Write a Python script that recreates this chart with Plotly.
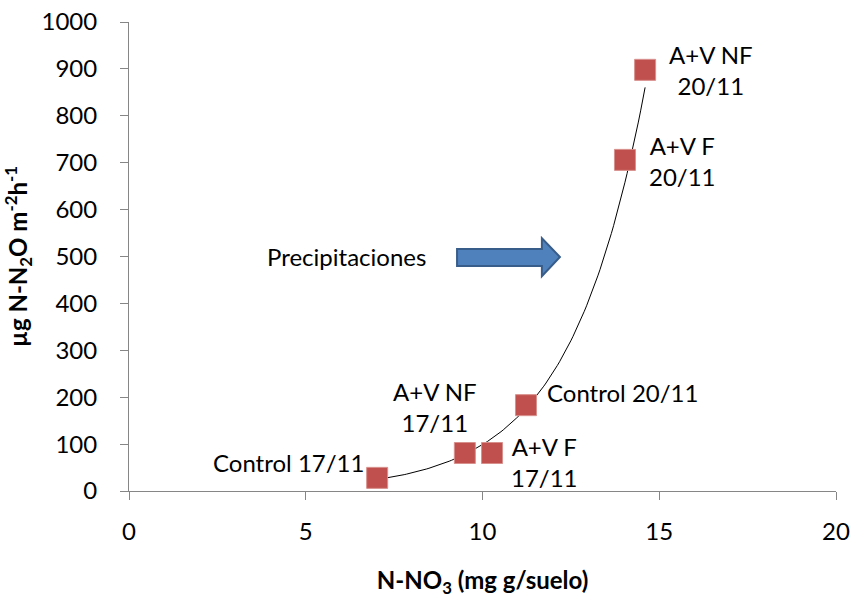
import numpy as np
import plotly.graph_objects as go

# Data
labels = ["Control 17/11", "A+V NF 17/11", "A+V F 17/11", "Control 20/11", "A+V F 20/11", "A+V NF 20/11"]
no3 = [7.02, 9.5, 10.27, 11.23, 14.03, 14.6]
n2o = [28, 81, 81, 183, 706, 898]

x_ticks = [0, 5, 10, 15, 20]
y_ticks = [0, 100, 200, 300, 400, 500, 600, 700, 800, 900, 1000]

FONT = "Lato"
TXT = 24

# Exponential trend line (least squares on log values, as in a spreadsheet trendline)
b, a = np.polyfit(np.array(no3), np.log(np.array(n2o)), 1)
tx = np.linspace(min(no3), max(no3), 120)
ty = np.exp(a) * np.exp(b * tx)

fig = go.Figure()
fig.add_trace(go.Scatter(x=tx, y=ty, mode="lines",
                         line=dict(color="black", width=1), hoverinfo="skip", showlegend=False))
fig.add_trace(go.Scatter(x=no3, y=n2o, mode="markers",
                         marker=dict(symbol="square", size=21, color="#C0504D",
                                     line=dict(color="#D8908D", width=1)),
                         text=labels, showlegend=False))

# Point labels (offsets in pixels from the point)
ann = [
    dict(x=no3[0], y=n2o[0], text="Control 17/11", xanchor="right", yanchor="middle", xshift=-11, yshift=15, align="left"),
    dict(x=no3[1], y=n2o[1], text="A+V NF<br>17/11", xanchor="center", yanchor="middle", xshift=-30, yshift=46, align="center"),
    dict(x=no3[2], y=n2o[2], text="A+V F<br>17/11", xanchor="left", yanchor="middle", xshift=17, yshift=-9, align="center"),
    dict(x=no3[3], y=n2o[3], text="Control 20/11", xanchor="left", yanchor="middle", xshift=19, yshift=13, align="left"),
    dict(x=no3[4], y=n2o[4], text="A+V F<br>20/11", xanchor="left", yanchor="middle", xshift=22, yshift=-1, align="center"),
    dict(x=no3[5], y=n2o[5], text="A+V NF<br>20/11", xanchor="left", yanchor="middle", xshift=22, yshift=0, align="center"),
]
annotations = []
for d in ann:
    d.update(xref="x", yref="y", showarrow=False, font=dict(family=FONT, size=TXT, color="black"))
    annotations.append(d)
annotations.append(dict(x=9.28, y=499, xref="x", yref="y", text="Precipitaciones", showarrow=False,
                        xanchor="right", yanchor="middle", xshift=-29,
                        font=dict(family=FONT, size=TXT, color="black")))

# Block arrow shape
arrow_path = "M 9.28 516 L 11.68 516 L 11.68 539 L 12.19 499 L 11.68 458 L 11.68 480 L 9.28 480 Z"
shapes = [dict(type="path", path=arrow_path, xref="x", yref="y",
               fillcolor="#4F81BD", line=dict(color="#385D8A", width=2))]

fig.update_layout(
    template="none",
    width=855, height=598,
    margin=dict(l=129, r=19, t=22, b=107),
    paper_bgcolor="white", plot_bgcolor="white",
    font=dict(family=FONT, size=TXT, color="black"),
    annotations=annotations, shapes=shapes,
)
fig.update_xaxes(range=[0, 20], tickvals=x_ticks, showgrid=False, zeroline=False,
                 automargin=False,
                 showline=True, linecolor="#868686", linewidth=1,
                 ticks="outside", ticklen=8, tickcolor="#868686",
                 ticklabelstandoff=11, tickfont=dict(family=FONT, size=TXT, color="black"),
                 title=dict(text="<b>N-NO<sub>3</sub> (mg g/suelo)</b>", standoff=28,
                            font=dict(family=FONT, size=TXT, color="black")))
fig.update_yaxes(range=[0, 1000], tickvals=y_ticks, showgrid=False, zeroline=False,
                 automargin=False,
                 showline=True, linecolor="#868686", linewidth=1,
                 ticks="outside", ticklen=8, tickcolor="#868686",
                 ticklabelstandoff=18, tickfont=dict(family=FONT, size=TXT, color="black"),
                 title=dict(text="<b>µg N-N<sub>2</sub>O m<sup>-2</sup>h<sup>-1</sup></b>", standoff=7,
                            font=dict(family=FONT, size=TXT, color="black")))

fig.write_html("out.html")
